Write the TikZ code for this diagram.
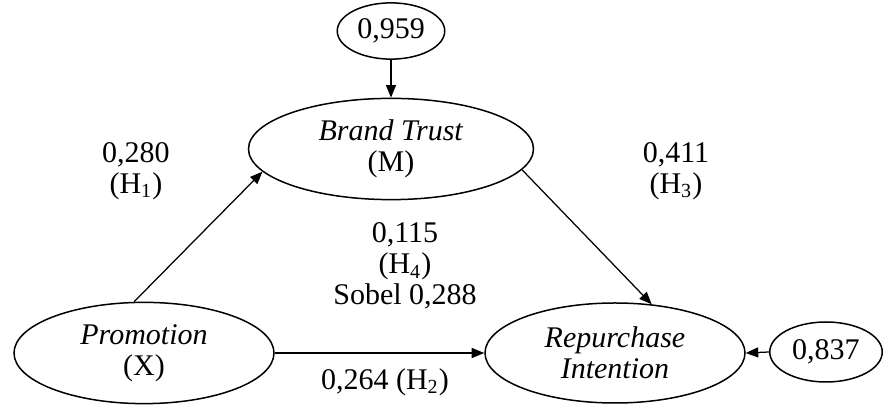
\documentclass[tikz,border=0pt]{standalone}
\usepackage{fontspec}
\setmainfont{Liberation Serif}
\usepackage{pgf,tikz}
\usetikzlibrary{arrows.meta,positioning,shapes.geometric}
\tikzset{
  lv/.style={draw, ellipse, align=center, inner sep=0pt, line width=0.6pt,
             font=\fontsize{12}{12.5}\selectfont},
  lvbig/.style={lv, minimum width=104pt, minimum height=40.5pt},
  lverr/.style={lv, minimum width=43pt, minimum height=22.5pt},
  coef/.style={align=center, inner sep=0pt, font=\fontsize{12}{12.5}\selectfont},
  ar/.style={-{Triangle[length=5pt,width=4pt]}, draw=black, line width=0.5pt},
}
\begin{document}
\begin{tikzpicture}[x=0.4pt, y=-0.4pt]
  \useasboundingbox (0,0) rectangle (883,405);
  % latent variables
  \node[lvbig, minimum width=114pt] (bt) at (391,149) {\textit{Brand Trust}\\(M)};
  \node[lvbig] (prom) at (144,353) {\textit{Promotion}\\(X)};
  \node[lvbig, minimum height=40pt] (rep) at (615,353) {\textit{Repurchase}\\\textit{Intention}};
  % residuals
  \node[lverr] (e1) at (391,31) {0,959};
  \node[lverr, minimum width=45pt, minimum height=24pt] (e2) at (826,352) {0,837};
  % paths
  \draw[ar] (e1.south) -- (bt.north);
  \draw[ar] (e2.west) -- (rep.east);
  \draw[ar] (prom.101) -- (bt.190);
  \draw[ar] (bt.351) -- (rep.53);
  \draw[ar] (prom.east) -- (rep.west);
  % coefficients
  \node[coef] (h1) at (136,171) {0,280\\(H\textsubscript{1})};
  \node[coef] (h3) at (676,171) {0,411\\(H\textsubscript{3})};
  \node[coef] (h4) at (405,266) {0,115\\(H\textsubscript{4})\\Sobel 0,288};
  \node[coef] (h2) at (385,382) {0,264 (H\textsubscript{2})};
\end{tikzpicture}
\end{document}
